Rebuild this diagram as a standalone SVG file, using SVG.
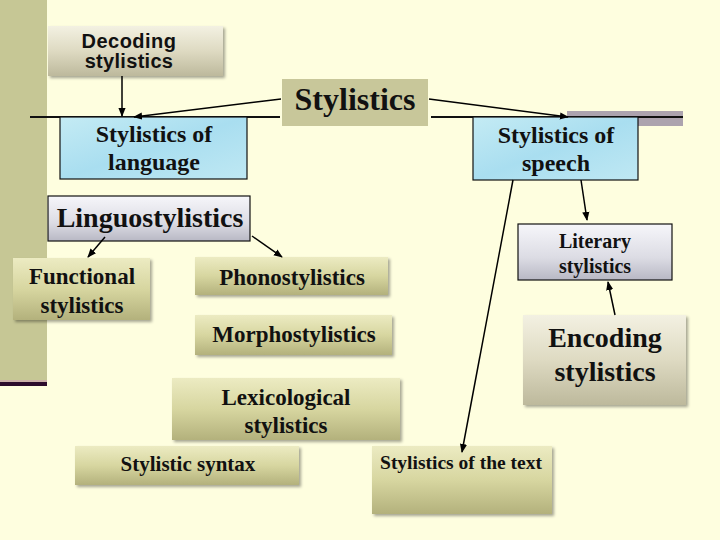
<svg xmlns="http://www.w3.org/2000/svg" width="720" height="540" viewBox="0 0 720 540">
<defs>
<linearGradient id="olive" x1="0" y1="0" x2="0" y2="1">
<stop offset="0" stop-color="#ecebc2"/>
<stop offset="0.5" stop-color="#d7d6a0"/>
<stop offset="1" stop-color="#b3b17c"/>
</linearGradient>
<linearGradient id="beige" x1="0" y1="0" x2="0" y2="1">
<stop offset="0" stop-color="#f3f1e2"/>
<stop offset="0.5" stop-color="#dedac2"/>
<stop offset="1" stop-color="#bdb99c"/>
</linearGradient>
<linearGradient id="silver" x1="0" y1="0" x2="0" y2="1">
<stop offset="0" stop-color="#f6f6fa"/>
<stop offset="0.6" stop-color="#dcdce4"/>
<stop offset="1" stop-color="#b8b8c4"/>
</linearGradient>
<linearGradient id="water" x1="0" y1="0" x2="1" y2="1">
<stop offset="0" stop-color="#c4ebf4"/>
<stop offset="0.5" stop-color="#a9def0"/>
<stop offset="1" stop-color="#bfe8f3"/>
</linearGradient>
<filter id="sh" x="-10%" y="-10%" width="125%" height="130%">
<feGaussianBlur in="SourceAlpha" stdDeviation="1.5"/>
<feOffset dx="1.5" dy="2" result="b"/>
<feFlood flood-color="#000" flood-opacity="0.35"/>
<feComposite in2="b" operator="in"/>
<feMerge><feMergeNode/><feMergeNode in="SourceGraphic"/></feMerge>
</filter>
<marker id="ah" viewBox="0 0 10 10" refX="9" refY="5" markerWidth="6" markerHeight="6" orient="auto">
<path d="M0,1 L10,5 L0,9 z" fill="#000"/>
</marker>
<style>
.t{font-family:"Liberation Serif","Times New Roman",serif;font-weight:bold;fill:#111;text-anchor:middle}
.a{font-family:"Liberation Sans",Arial,sans-serif;font-weight:bold;fill:#111;text-anchor:middle}
.ol{fill:url(#olive);filter:url(#sh)}
.ln{stroke:#000;stroke-width:1.5;fill:none;marker-end:url(#ah)}
.bx{stroke:#111;stroke-width:1.2}
</style>
</defs>
<rect width="720" height="540" fill="#fefedf"/>
<rect x="0" y="0" width="47" height="382" fill="#c6c795"/>
<rect x="0" y="380" width="47" height="2" fill="#cbb0a8"/>
<rect x="0" y="382" width="47" height="4" fill="#2c0c2c"/>
<rect x="567" y="111" width="116" height="15" fill="#aca3ae"/>
<line x1="30" y1="117" x2="280" y2="117" stroke="#111" stroke-width="2"/>
<line x1="431" y1="117" x2="683" y2="117" stroke="#111" stroke-width="2"/>

<g id="decoding">
<rect x="48" y="26" width="175" height="50" fill="url(#beige)" filter="url(#sh)"/>
<text class="a" x="129" y="48" font-size="20" letter-spacing="0.5">Decoding</text>
<text class="a" x="129" y="68" font-size="20" letter-spacing="0.3">stylistics</text>
</g>
<g id="stylistics">
<rect x="282" y="79" width="146" height="47" fill="#c8c79a"/>
<text class="t" x="355" y="110" font-size="32">Stylistics</text>
</g>
<g id="lang">
<rect class="bx" x="60" y="117" width="187" height="62" fill="url(#water)"/>
<text class="t" x="154" y="142" font-size="24">Stylistics of</text>
<text class="t" x="154" y="170" font-size="24">language</text>
</g>
<g id="speech">
<rect class="bx" x="473" y="117" width="165" height="63" fill="url(#water)"/>
<text class="t" x="556" y="143" font-size="24">Stylistics of</text>
<text class="t" x="556" y="171" font-size="24">speech</text>
</g>
<g id="linguo">
<rect class="bx" x="48" y="196" width="202" height="45" fill="url(#silver)"/>
<text class="t" x="150" y="227" font-size="28">Linguostylistics</text>
</g>
<g id="functional">
<rect class="ol" x="13" y="258" width="137" height="62"/>
<text class="t" x="82" y="284" font-size="23">Functional</text>
<text class="t" x="82" y="313" font-size="23">stylistics</text>
</g>
<g id="phono">
<rect class="ol" x="195" y="257" width="193" height="38"/>
<text class="t" x="292" y="285" font-size="23">Phonostylistics</text>
</g>
<g id="morpho">
<rect class="ol" x="195" y="315" width="197" height="40"/>
<text class="t" x="294" y="342" font-size="23">Morphostylistics</text>
</g>
<g id="lexico">
<rect class="ol" x="172" y="378" width="228" height="62"/>
<text class="t" x="286" y="405" font-size="23">Lexicological</text>
<text class="t" x="286" y="433" font-size="23">stylistics</text>
</g>
<g id="syntax">
<rect class="ol" x="75" y="446" width="224" height="39"/>
<text class="t" x="188" y="471" font-size="21">Stylistic syntax</text>
</g>
<g id="text">
<rect class="ol" x="372" y="446" width="180" height="68"/>
<text class="t" x="461" y="469" font-size="19.5">Stylistics of the text</text>
</g>
<g id="literary">
<rect class="bx" x="518" y="224" width="154" height="56" fill="url(#silver)"/>
<text class="t" x="595" y="248" font-size="20">Literary</text>
<text class="t" x="595" y="273" font-size="20">stylistics</text>
</g>
<g id="encoding">
<rect x="523" y="315" width="163" height="90" fill="url(#beige)" filter="url(#sh)"/>
<text class="t" x="605" y="347" font-size="28">Encoding</text>
<text class="t" x="605" y="381" font-size="28">stylistics</text>
</g>

<g id="connectors">
<line class="ln" x1="122" y1="76" x2="122" y2="116"/>
<line class="ln" x1="281" y1="99" x2="134" y2="117"/>
<line class="ln" x1="429" y1="99" x2="568" y2="117"/>
<line class="ln" x1="105" y1="237" x2="88" y2="257"/>
<line class="ln" x1="252" y1="236" x2="282" y2="257"/>
<line class="ln" x1="581" y1="180" x2="587" y2="220"/>
<line class="ln" x1="513" y1="180" x2="462" y2="452"/>
<line class="ln" x1="615" y1="315" x2="608" y2="282"/>
</g>
</svg>
